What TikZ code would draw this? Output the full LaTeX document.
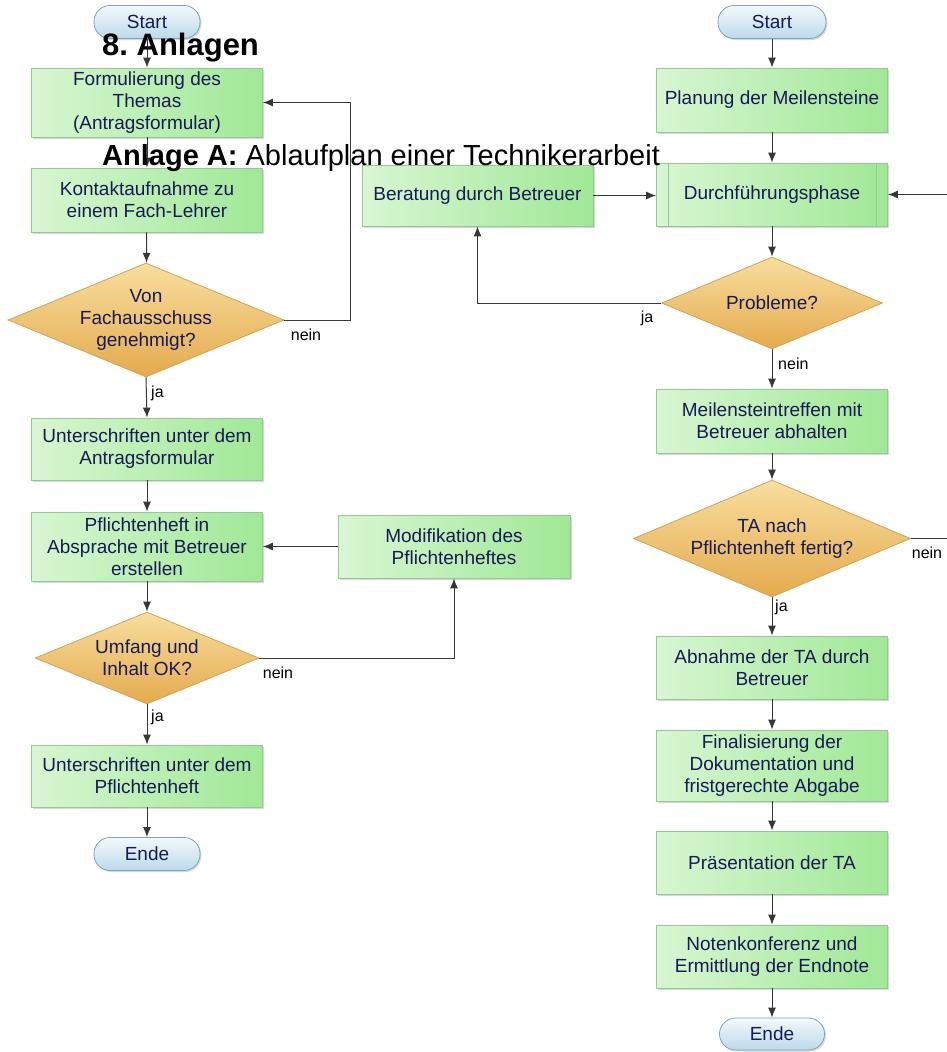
\documentclass[tikz,border=0pt]{standalone}
\usepackage{fontspec}
\setmainfont{Liberation Sans}
\usetikzlibrary{shapes.geometric,arrows.meta,shadows}
\definecolor{boxL}{RGB}{216,246,210}
\definecolor{boxR}{RGB}{160,232,150}
\definecolor{boxBorder}{RGB}{150,200,150}
\definecolor{diaT}{RGB}{248,222,158}
\definecolor{diaB}{RGB}{228,170,78}
\definecolor{diaBorder}{RGB}{205,165,90}
\definecolor{termT}{RGB}{242,249,252}
\definecolor{termB}{RGB}{188,218,234}
\definecolor{termBorder}{RGB}{128,162,188}
\definecolor{txt}{RGB}{22,26,85}
\definecolor{lineC}{RGB}{55,55,55}
\begin{document}
\frenchspacing
\begin{tikzpicture}[x=1pt,y=-1pt,
  boxtext/.style={font=\fontsize{19}{22}\selectfont, text=txt, align=center},
  procbox/.style={rectangle, draw=boxBorder, line width=0.8pt, left color=boxL, right color=boxR,
    minimum width=231pt, minimum height=64pt, inner sep=2pt, boxtext,
    drop shadow={shadow xshift=1.5pt, shadow yshift=-1.5pt, opacity=0.3}},
  decbox/.style={diamond, draw=diaBorder, line width=0.8pt, top color=diaT, bottom color=diaB,
    inner sep=0pt, minimum width=276pt, minimum height=114pt},
  termbox/.style={rectangle, rounded corners=16pt, draw=termBorder, line width=0.8pt,
    top color=termT, bottom color=termB, minimum width=106pt, minimum height=33pt, inner sep=0pt, boxtext,
    drop shadow={shadow xshift=1.5pt, shadow yshift=-1.5pt, opacity=0.3}},
  arr/.style={draw=lineC, line width=1pt, -{Latex[length=10pt,width=8pt]}},
  plainline/.style={draw=lineC, line width=1pt},
  lab/.style={font=\fontsize{16}{18}\selectfont, text=black, inner sep=0pt}
]
\useasboundingbox (0,0) rectangle (947,1052);
\fill[white] (0,0) rectangle (947,1052);

% ---------- left column ----------
\node[termbox] (s1) at (147,22) {Start};
\node[procbox, minimum height=69pt] (b1) at (147,102.5) {Formulierung des\\Themas\\(Antragsformular)};
\node[procbox] (b2) at (147,200) {Kontaktaufnahme zu\\einem Fach-Lehrer};
\node[decbox, label={[boxtext]center:{Von\\Fachausschuss\\genehmigt?}}] (d1) at (146,320) {};
\node[procbox, minimum height=62pt] (b3) at (147,449) {Unterschriften unter dem\\Antragsformular};
\node[procbox, minimum height=69pt] (b4) at (147,546.5) {Pflichtenheft in\\Absprache mit Betreuer\\erstellen};
\node[procbox, minimum width=232pt, minimum height=63pt] (mod) at (454,546.5) {Modifikation des\\Pflichtenheftes};
\node[decbox, minimum width=224pt, minimum height=92pt, label={[boxtext]center:{Umfang und\\Inhalt OK?}}] (d2) at (147,658) {};
\node[procbox, minimum height=62pt] (b5) at (147,776) {Unterschriften unter dem\\Pflichtenheft};
\node[termbox] (e1) at (147,854) {Ende};

\coordinate (lx) at (350,0);
\draw[arr] (s1) -- (b1);
\draw[arr] (b1) -- (b2);
\draw[arr] (b2) -- (d1);
\draw[arr] (d1.south) -- (b3.north);
\draw[arr] (d1.east) -- (d1.east -| lx) |- (b1.east);
\draw[arr] (b3) -- (b4);
\draw[arr] (mod.west) -- (b4.east);
\draw[arr] (b4.south) -- (d2.north);
\draw[arr] (d2.east) -| (mod.south);
\draw[arr] (d2.south) -- (b5.north);
\draw[arr] (b5) -- (e1);

\node[lab, anchor=west] (l1) at (151,393) {ja};
\node[lab] (l2) at (306,335) {nein};
\node[lab, anchor=west] (l3) at (151,717) {ja};
\node[lab] (l4) at (278,673) {nein};

% ---------- right column ----------
\node[termbox, minimum width=108pt] (s2) at (772,22) {Start};
\node[procbox] (plan) at (772,100) {Planung der Meilensteine};
\node[procbox, minimum height=63pt] (dur) at (772,194.5) {Durchführungsphase};
\draw[boxBorder, line width=0.8pt] ([xshift=12pt]dur.north west) -- ([xshift=12pt]dur.south west);
\draw[boxBorder, line width=0.8pt] ([xshift=-12pt]dur.north east) -- ([xshift=-12pt]dur.south east);
\node[procbox, minimum height=61pt] (ber) at (477.5,195.5) {Beratung durch Betreuer};
\node[decbox, minimum width=221pt, minimum height=92pt, label={[boxtext]center:{Probleme?}}] (prob) at (772,303) {};
\node[procbox] (mt) at (772,421) {Meilensteintreffen mit\\Betreuer abhalten};
\node[decbox, minimum width=277pt, minimum height=117pt, label={[boxtext]center:{TA nach\\Pflichtenheft fertig?}}] (ta) at (772,538.5) {};
\node[procbox, minimum height=63pt] (ab) at (772,667.5) {Abnahme der TA durch\\Betreuer};
\node[procbox, minimum height=71pt] (fin) at (772,765.5) {Finalisierung der\\Dokumentation und\\fristgerechte Abgabe};
\node[procbox, minimum height=63pt] (pr) at (772,862.5) {Präsentation der TA};
\node[procbox, minimum height=63pt] (nk) at (772,956.5) {Notenkonferenz und\\Ermittlung der Endnote};
\node[termbox, minimum width=105pt, minimum height=32pt] (e2) at (772,1034) {Ende};

\coordinate (redge1) at (947,538.5);
\coordinate (redge2) at (947,194.5);
\draw[arr] (s2) -- (plan);
\draw[arr] (plan) -- (dur);
\draw[arr] (ber.east) -- (ber.east -| dur.west);
\draw[arr] (dur.south) -- (prob.north);
\draw[arr] (prob.west) -| (ber.south);
\draw[arr] (prob.south) -- (mt.north);
\draw[arr] (mt.south) -- (ta.north);
\draw[plainline] (ta.east) -- (redge1);
\draw[arr] (redge2) -- (dur.east);
\draw[arr] (ta.south) -- (ab.north);
\draw[arr] (ab) -- (fin);
\draw[arr] (fin) -- (pr);
\draw[arr] (pr) -- (nk);
\draw[arr] (nk) -- (e2);

\node[lab] (l5) at (647,318) {ja};
\node[lab, anchor=west] (l6) at (778,364) {nein};
\node[lab] (l7) at (927,553) {nein};
\node[lab, anchor=west] (l8) at (775,607) {ja};

% ---------- headings ----------
\node[anchor=base west, inner sep=0pt, font=\fontsize{31}{36}\selectfont\bfseries] (h1) at (102,55) {8.\ Anlagen};
\node[anchor=base west, inner sep=0pt, font=\fontsize{29}{34}\selectfont] (h2) at (102,165) {\textbf{Anlage A:} Ablaufplan einer Technikerarbeit};
\end{tikzpicture}
\end{document}
